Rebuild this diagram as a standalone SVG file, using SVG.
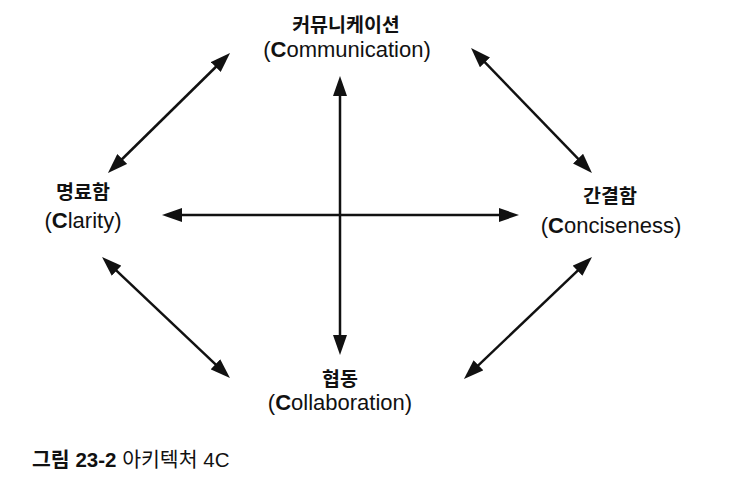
<svg xmlns="http://www.w3.org/2000/svg" width="734" height="486" viewBox="0 0 734 486">
<defs>
<style>
.ko{font-family:"Liberation Sans","Noto Sans CJK KR",sans-serif;font-weight:bold;font-size:19.5px;fill:#111;text-anchor:middle}
.en{font-family:"Liberation Sans","Noto Sans CJK KR",sans-serif;font-size:22px;fill:#111;text-anchor:middle}
.b{font-weight:bold}
.con{stroke:#111;stroke-width:2.5;fill:none;marker-start:url(#ah);marker-end:url(#ah)}
.cap{font-family:"Liberation Sans","Noto Sans CJK KR",sans-serif;font-size:20.5px;fill:#111}
</style>
<marker id="ah" markerUnits="userSpaceOnUse" markerWidth="20" markerHeight="14" refX="10" refY="7" orient="auto-start-reverse" viewBox="0 0 20 14">
<path d="M0,0 L20,7 L0,14 z" fill="#111"/>
</marker>
</defs>
<rect width="734" height="486" fill="#fff"/>
<g id="connectors">
<line class="con" x1="340" y1="86" x2="340" y2="345"/>
<line class="con" x1="172" y1="215" x2="509" y2="215"/>
<line class="con" x1="222.9" y1="60" x2="115.1" y2="166"/>
<line class="con" x1="478" y1="55.2" x2="585" y2="165.8"/>
<line class="con" x1="109.3" y1="263.9" x2="222.7" y2="371.1"/>
<line class="con" x1="584.8" y1="263.9" x2="471.2" y2="372.1"/>
</g>
<g id="communication">
<text class="ko" x="346" y="32">커뮤니케이션</text>
<text class="en" x="347" y="57">(<tspan class="b">C</tspan>ommunication)</text>
</g>
<g id="clarity">
<text class="ko" x="83" y="199">명료함</text>
<text class="en" x="83" y="228">(<tspan class="b">C</tspan>larity)</text>
</g>
<g id="conciseness">
<text class="ko" x="610" y="203">간결함</text>
<text class="en" x="611" y="233">(<tspan class="b">C</tspan>onciseness)</text>
</g>
<g id="collaboration">
<text class="ko" x="340" y="386">협동</text>
<text class="en" x="340" y="410">(<tspan class="b">C</tspan>ollaboration)</text>
</g>
<g id="caption">
<text class="cap" x="32" y="467"><tspan font-weight="bold">그림 23-2</tspan> 아키텍처 4C</text>
</g>
</svg>
